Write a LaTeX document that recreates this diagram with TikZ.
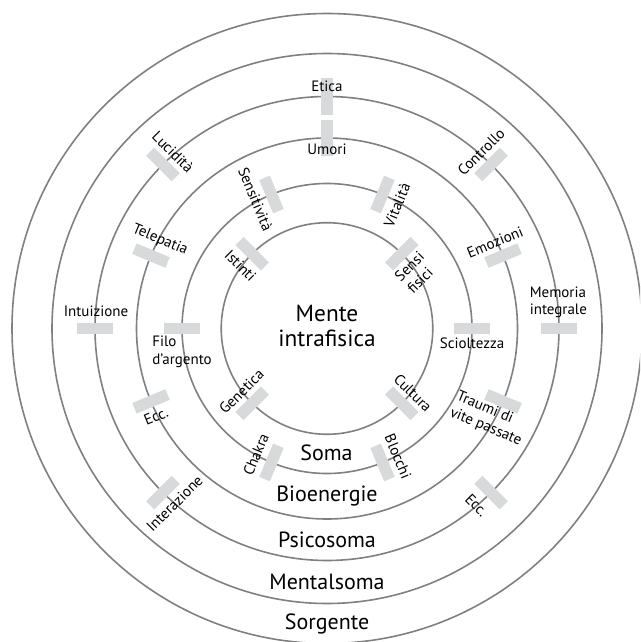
\documentclass[tikz,border=0pt]{standalone}
\usepackage{fontspec}
\setmainfont{PT Sans}
\usepackage{tikz}

\definecolor{ringGray}{RGB}{128,128,128}
\definecolor{barGray}{RGB}{216,217,219}

\begin{document}
\begin{tikzpicture}[x=0.75pt,y=0.75pt,yscale=-1,xscale=1,
	ring/.style={draw=ringGray, line width=1.2},
	bar/.style={draw=barGray, line width=8.6},
	small/.style={inner sep=0.75pt, font=\fontsize{11.25}{13.1}\selectfont},
	layer/.style={inner sep=0.75pt, font=\fontsize{16.5}{19}\selectfont}]
	%set diagram to the 640 x 642 frame
	\useasboundingbox (0,0) rectangle (640,642);
	\clip (0,0) rectangle (640,642);
	
	%Shape: Circles (Mente, Soma, Bioenergie, Psicosoma, Mentalsoma, Sorgente)
	\draw [ring] (327,328.5) circle [radius=105.8];
	\draw [ring] (327,328.5) circle [radius=145];
	\draw [ring] (327,328.5) circle [radius=190.5];
	\draw [ring] (327,328.5) circle [radius=232];
	\draw [ring] (327,328.5) circle [radius=275];
	\draw [ring] (327,328.5) circle [radius=315];
	
	%Straight Lines: bars on the first circle
	\draw [bar] (389.1,266.4) -- (414.5,241);
	\draw [bar] (264.9,266.4) -- (239.5,241);
	\draw [bar] (264.9,390.6) -- (239.5,416);
	\draw [bar] (389.1,390.6) -- (414.5,416);
	%Straight Lines: bars on the second circle
	\draw [bar] (454,328.5) -- (490,328.5);
	\draw [bar] (200,328.5) -- (164,328.5);
	\draw [bar] (278.4,211.2) -- (264.6,177.9);
	\draw [bar] (375.6,211.2) -- (389.4,177.9);
	\draw [bar] (278.4,445.8) -- (264.6,479.1);
	\draw [bar] (375.6,445.8) -- (389.4,479.1);
	%Straight Lines: bars on the third circle
	\draw [bar] (327,156) -- (327,120);
	\draw [bar] (167.6,262.5) -- (134.4,248.7);
	\draw [bar] (486.4,262.5) -- (519.6,248.7);
	\draw [bar] (167.6,394.5) -- (134.4,408.3);
	\draw [bar] (486.4,394.5) -- (519.6,408.3);
	%Straight Lines: bars on the fourth circle
	\draw [bar] (327,114.5) -- (327,78.5);
	\draw [bar] (541,328.5) -- (577,328.5);
	\draw [bar] (113,328.5) -- (77,328.5);
	\draw [bar] (478.3,177.2) -- (503.8,151.7);
	\draw [bar] (175.7,177.2) -- (150.2,151.7);
	\draw [bar] (175.7,479.8) -- (150.2,505.3);
	\draw [bar] (478.3,479.8) -- (503.8,505.3);
	
	% Text Node
	\draw (327,326) node (mente) [layer, font=\fontsize{17.5}{18.8}\selectfont, align=center] {Mente\\intrafisica};
	% Text Node
	\draw (326.5,452.5) node (soma) [layer] {Soma};
	% Text Node
	\draw (327,496.5) node (bioenergie) [layer] {Bioenergie};
	% Text Node
	\draw (327,540) node (psicosoma) [layer] {Psicosoma};
	% Text Node
	\draw (327,581.5) node (mentalsoma) [layer] {Mentalsoma};
	% Text Node
	\draw (327,624) node (sorgente) [layer] {Sorgente};
	
	% Text Node
	\draw (327,86.5) node (etica) [small] {Etica};
	% Text Node
	\draw (327,149) node (umori) [small] {Umori};
	% Text Node
	\draw (173,152) node (lucidita) [small, rotate=-45] {Lucidità};
	% Text Node
	\draw (481,152) node (controllo) [small, rotate=45] {Controllo};
	% Text Node
	\draw (255.5,199) node (sensitivita) [small, rotate=-67.5] {Sensitività};
	% Text Node
	\draw (397,205) node (vitalita) [small, rotate=67.5] {Vitalità};
	% Text Node
	\draw (160,240) node (telepatia) [small, rotate=-22.5] {Telepatia};
	% Text Node
	\draw (495,242) node (emozioni) [small, rotate=22.5] {Emozioni};
	% Text Node
	\draw (240.5,265.5) node (istinti) [small, rotate=-45] {Istinti};
	% Text Node
	\draw (415.5,272.5) node (sensi) [small, rotate=45, align=left] {Sensi\\fisici};
	% Text Node
	\draw (96,311) node (intuizione) [small] {Intuizione};
	% Text Node
	\draw (528.5,302.5) node (memoria) [small, anchor=west, align=left] {Memoria\\integrale};
	% Text Node
	\draw (151,352) node (filo) [small, anchor=west, align=left] {Filo\\d’argento};
	% Text Node
	\draw (472,343.5) node (scioltezza) [small] {Scioltezza};
	% Text Node
	\draw (241.5,391.5) node (genetica) [small, rotate=45] {Genetica};
	% Text Node
	\draw (413,393) node (cultura) [small, rotate=-45] {Cultura};
	% Text Node
	\draw (156,416.5) node (eccA) [small, rotate=22.5] {Ecc.};
	% Text Node
	\draw (489,419) node (traumi) [small, rotate=-22.5, align=left] {Traumi di\\vite passate};
	% Text Node
	\draw (256,454.5) node (chakra) [small, rotate=67.5] {Chakra};
	% Text Node
	\draw (398,456.5) node (blocchi) [small, rotate=-67.5] {Blocchi};
	% Text Node
	\draw (174.5,503.5) node (interazione) [small, rotate=45] {Interazione};
	% Text Node
	\draw (476.5,505) node (eccB) [small, rotate=-45] {Ecc.};
	
\end{tikzpicture}
\end{document}
